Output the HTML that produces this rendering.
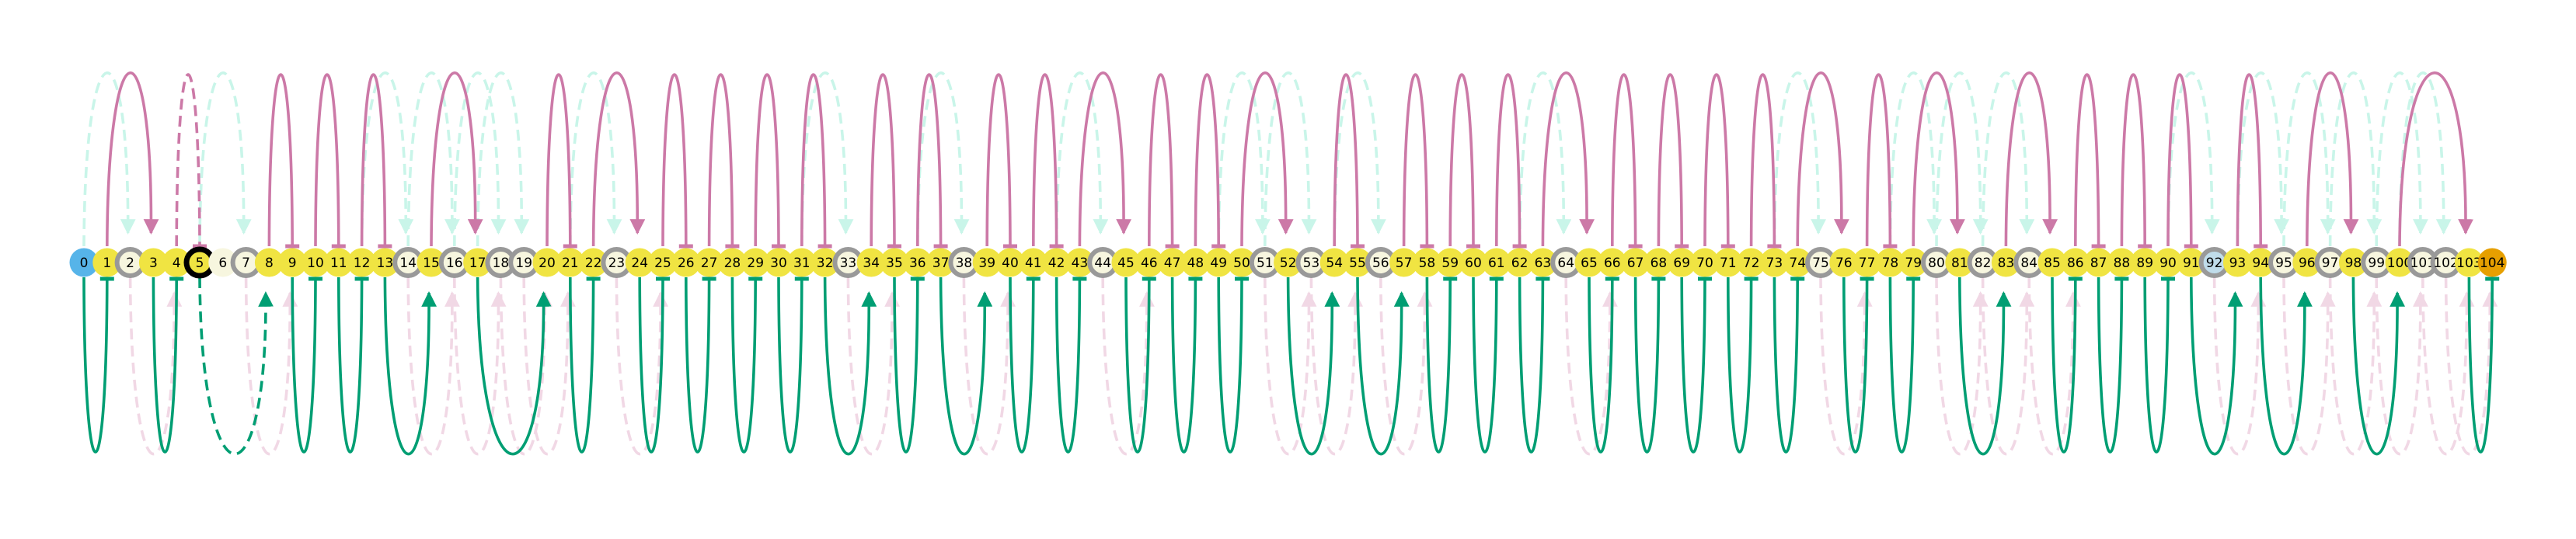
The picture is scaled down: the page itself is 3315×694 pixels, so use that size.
<!DOCTYPE html>
<html><head><meta charset="utf-8"><style>
html,body{margin:0;padding:0;background:#fff;}
svg{display:block;}
text{font-family:"DejaVu Sans","Liberation Sans",sans-serif;}
</style></head><body>
<svg id="chart" width="3315" height="694" viewBox="0 0 3315 694" xmlns="http://www.w3.org/2000/svg">
<defs>
<marker id="arP" viewBox="0 0 10 10" refX="9" refY="5" markerWidth="5.5" markerHeight="5.5" orient="auto"><path d="M0,0 L10,5 L0,10 z" fill="#CC79A7"/></marker>
<marker id="arG" viewBox="0 0 10 10" refX="9" refY="5" markerWidth="5.5" markerHeight="5.5" orient="auto"><path d="M0,0 L10,5 L0,10 z" fill="#009E73"/></marker>
<marker id="arM" viewBox="0 0 10 10" refX="9" refY="5" markerWidth="5.5" markerHeight="5.5" orient="auto"><path d="M0,0 L10,5 L0,10 z" fill="#C9F5E9"/></marker>
<marker id="arL" viewBox="0 0 10 10" refX="9" refY="5" markerWidth="5.5" markerHeight="5.5" orient="auto"><path d="M0,0 L10,5 L0,10 z" fill="#F1D8E5"/></marker>
</defs>
<g id="faint"></g>
<g id="main"></g>
<g id="nodes"></g>
</svg>
<script>
const nodeCount = 105;
const grayNodes = [2,7,14,16,18,19,23,33,38,44,51,53,56,64,75,80,82,84,92,95,97,99,101,102];
const creamNodes = [6];
const startNode = 0, endNode = 104, ringedBlack = 5, blueFill = 92;

const NS = "http://www.w3.org/2000/svg";
const x0 = 108, dx = 29.8, cy = 338, r = 18.5;
const X = i => x0 + i*dx;
const topPeak = 96, botPeak = 582;

function mk(tag, attrs, parent){ const e=document.createElementNS(NS,tag); for(const k in attrs) e.setAttribute(k,attrs[k]); parent.appendChild(e); return e; }

function arc(a,b,up,color,marker,dash,parent,name){
  const xa=X(a), xb=X(b);
  const y0 = up ? cy-21 : cy+19;
  const yEnd = marker ? (up ? cy-38 : cy+39) : y0;
  const peak = up ? topPeak : botPeak;
  const yc = y0 + (peak - y0)/0.75;
  const w = xb-xa;
  const d = `M${xa},${y0} C${xa+w*0.02},${yc} ${xb-w*0.02},${yc} ${xb-(marker? w*0.05:0)},${yEnd}`;
  const p = mk('path',{d:d,fill:'none',stroke:color,'stroke-width':3.6},parent);
  if(dash) p.setAttribute('stroke-dasharray','14,8');
  if(marker) p.setAttribute('marker-end',`url(#${marker})`);
  
  
  if(!marker){
    const ty = up ? cy-21 : cy+21;
    const t = mk('line',{x1:xb-9,x2:xb+9,y1:ty,y2:ty,stroke:color,'stroke-width':5},parent);
    
    
  }
}

const faint = document.getElementById('faint');
grayNodes.forEach(g=>{
  if(g-2>=0) arc(g-2,g,true,'#C9F5E9','arM',true,faint,'faint-top-arc-'+g);
  if(g+2<nodeCount) arc(g,g+2,false,'#F1D8E5','arL',true,faint,'faint-bottom-arc-'+g);
});

const pathNodes=[];
for(let i=0;i<nodeCount;i++) if(!grayNodes.includes(i) && !creamNodes.includes(i)) pathNodes.push(i);
const main=document.getElementById('main');
for(let k=0;k<pathNodes.length-1;k++){
  const a=pathNodes[k], b=pathNodes[k+1];
  const up = k%2===1;
  const skip = b-a>1;
  const dashed = (a===4 && b===5) || (a===5 && b===8);
  arc(a,b,up, up?'#CC79A7':'#009E73', skip?(up?'arP':'arG'):null, dashed, main, 'edge-'+a+'-'+b);
}

const ng=document.getElementById('nodes');
for(let i=0;i<nodeCount;i++){
  let fill='#F0E442', stroke=null, sw=0;
  if(i===startNode) fill='#56B4E9';
  else if(i===endNode) fill='#E69F00';
  else if(grayNodes.includes(i)){ fill = i===blueFill ? '#C0DCEA' : '#F7F6DF'; stroke='#999999'; sw=6; }
  else if(creamNodes.includes(i)) fill='#F7F6DF';
  if(i===ringedBlack){ stroke='#000'; sw=7; }
  const c=mk('circle',{cx:X(i),cy:cy,r: stroke? r-1.5 : r,fill:fill},ng);
  if(stroke){ c.setAttribute('stroke',stroke); c.setAttribute('stroke-width',sw); }
  
  
  const t=mk('text',{x:X(i),y:cy+6,'text-anchor':'middle','font-size':17,fill:'#000'},ng);
  t.textContent=String(i);
  
  
}
</script>
</body></html>
